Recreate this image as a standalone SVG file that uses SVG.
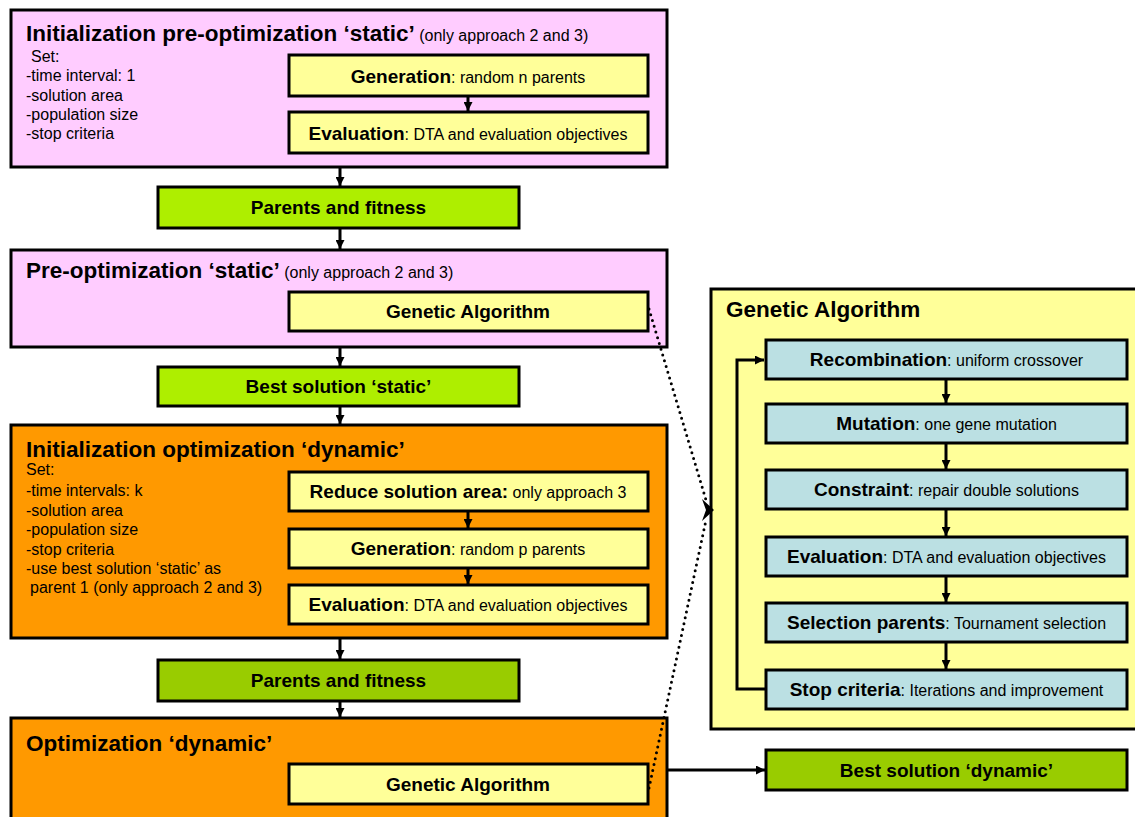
<svg xmlns="http://www.w3.org/2000/svg" width="1135" height="817" viewBox="0 0 1135 817">
<style>
text{font-family:"Liberation Sans",Arial,sans-serif;fill:#000}
.t{font-size:22.5px;font-weight:bold}
.s{font-size:16px}
.b{font-weight:bold;font-size:19px}
.n{font-size:16px;font-weight:normal}
.box{stroke:#000;stroke-width:3}
.pink{fill:#FFCCFF}.yel{fill:#FFFF99}.lime{fill:#AEEE00}.grn{fill:#99CC00}.org{fill:#FF9900}.blu{fill:#BBE0E3}
.c{stroke:#000;stroke-width:3;fill:none}
.dot{stroke:#000;stroke-width:3;fill:none;stroke-dasharray:0 6;stroke-linecap:round}
</style>
<defs>
<marker id="ah" viewBox="0 0 10 10" refX="10" refY="5" markerWidth="3" markerHeight="3" markerUnits="strokeWidth" orient="auto">
<path d="M0,0L10,5L0,10z" fill="#000"/>
</marker>
</defs>

<g id="init-static">
<rect class="box pink" x="11" y="10" width="656" height="157"/>
<text x="26" y="41"><tspan class="t">Initialization pre-optimization ‘static’</tspan><tspan class="n"> (only approach 2 and 3)</tspan></text>
<text class="s" x="31" y="62">Set:</text>
<text class="s" x="26" y="81">-time interval: 1</text>
<text class="s" x="26" y="101">-solution area</text>
<text class="s" x="26" y="120">-population size</text>
<text class="s" x="26" y="139">-stop criteria</text>
</g>
<g id="gen1">
<rect class="box yel" x="289" y="55" width="359" height="41"/>
<text x="468" y="83" text-anchor="middle"><tspan class="b">Generation</tspan><tspan class="n">: random n parents</tspan></text>
</g>
<g id="eval1">
<rect class="box yel" x="289" y="112" width="359" height="41"/>
<text x="468" y="140" text-anchor="middle"><tspan class="b">Evaluation</tspan><tspan class="n">: DTA and evaluation objectives</tspan></text>
</g>
<g id="parents1">
<rect class="box lime" x="158" y="187" width="361" height="41"/>
<text class="b" x="338.5" y="214" text-anchor="middle">Parents and fitness</text>
</g>
<g id="preopt-static">
<rect class="box pink" x="11" y="250" width="656" height="97"/>
<text x="26" y="278"><tspan class="t">Pre-optimization ‘static’</tspan><tspan class="n"> (only approach 2 and 3)</tspan></text>
</g>
<g id="ga1">
<rect class="box yel" x="289" y="292" width="359" height="39"/>
<text class="b" x="468" y="318" text-anchor="middle">Genetic Algorithm</text>
</g>
<g id="best-static">
<rect class="box lime" x="158" y="367" width="361" height="39"/>
<text class="b" x="338.5" y="393" text-anchor="middle">Best solution ‘static’</text>
</g>
<g id="init-dynamic">
<rect class="box org" x="11" y="425" width="656" height="213"/>
<text class="t" x="26" y="457">Initialization optimization ‘dynamic’</text>
<text class="s" x="26" y="475">Set:</text>
<text class="s" x="26" y="496">-time intervals: k</text>
<text class="s" x="26" y="516">-solution area</text>
<text class="s" x="26" y="535">-population size</text>
<text class="s" x="26" y="555">-stop criteria</text>
<text class="s" x="26" y="574">-use best solution ‘static’ as</text>
<text class="s" x="30" y="593">parent 1 (only approach 2 and 3)</text>
</g>
<g id="reduce">
<rect class="box yel" x="289" y="472" width="359" height="39"/>
<text x="468" y="498" text-anchor="middle"><tspan class="b">Reduce solution area:</tspan><tspan class="n"> only approach 3</tspan></text>
</g>
<g id="gen2">
<rect class="box yel" x="289" y="529" width="359" height="39"/>
<text x="468" y="555" text-anchor="middle"><tspan class="b">Generation</tspan><tspan class="n">: random p parents</tspan></text>
</g>
<g id="eval2">
<rect class="box yel" x="289" y="585" width="359" height="39"/>
<text x="468" y="611" text-anchor="middle"><tspan class="b">Evaluation</tspan><tspan class="n">: DTA and evaluation objectives</tspan></text>
</g>
<g id="parents2">
<rect class="box grn" x="158" y="660" width="361" height="41"/>
<text class="b" x="338.5" y="687" text-anchor="middle">Parents and fitness</text>
</g>
<g id="opt-dynamic">
<rect class="box org" x="11" y="718" width="656" height="110"/>
<text class="t" x="26" y="751">Optimization ‘dynamic’</text>
</g>
<g id="ga2">
<rect class="box yel" x="289" y="764" width="359" height="40"/>
<text class="b" x="468" y="791" text-anchor="middle">Genetic Algorithm</text>
</g>

<g id="ga-panel">
<rect class="box yel" x="711" y="289" width="440" height="440"/>
<text x="726" y="317" style="font-size:22.5px;font-weight:bold">Genetic Algorithm</text>
</g>
<g id="recomb">
<rect class="box blu" x="766" y="340" width="361" height="39"/>
<text x="946.5" y="366" text-anchor="middle"><tspan class="b">Recombination</tspan><tspan class="n">: uniform crossover</tspan></text>
</g>
<g id="mutation">
<rect class="box blu" x="766" y="404" width="361" height="39"/>
<text x="946.5" y="430" text-anchor="middle"><tspan class="b">Mutation</tspan><tspan class="n">: one gene mutation</tspan></text>
</g>
<g id="constraint">
<rect class="box blu" x="766" y="470" width="361" height="39"/>
<text x="946.5" y="496" text-anchor="middle"><tspan class="b">Constraint</tspan><tspan class="n">: repair double solutions</tspan></text>
</g>
<g id="eval3">
<rect class="box blu" x="766" y="537" width="361" height="39"/>
<text x="946.5" y="563" text-anchor="middle"><tspan class="b">Evaluation</tspan><tspan class="n">: DTA and evaluation objectives</tspan></text>
</g>
<g id="selection">
<rect class="box blu" x="766" y="603" width="361" height="39"/>
<text x="946.5" y="629" text-anchor="middle"><tspan class="b">Selection parents</tspan><tspan class="n">: Tournament selection</tspan></text>
</g>
<g id="stop">
<rect class="box blu" x="766" y="670" width="361" height="39"/>
<text x="946.5" y="696" text-anchor="middle"><tspan class="b">Stop criteria</tspan><tspan class="n">: Iterations and improvement</tspan></text>
</g>
<g id="best-dynamic">
<rect class="box grn" x="766" y="750" width="361" height="40"/>
<text class="b" x="946.5" y="777" text-anchor="middle">Best solution ‘dynamic’</text>
</g>

<g id="connectors">
<line class="c" x1="340" y1="168" x2="340" y2="186" marker-end="url(#ah)"/>
<line class="c" x1="468" y1="97" x2="468" y2="111" marker-end="url(#ah)"/>
<line class="c" x1="340" y1="229" x2="340" y2="249" marker-end="url(#ah)"/>
<line class="c" x1="340" y1="348" x2="340" y2="366" marker-end="url(#ah)"/>
<line class="c" x1="340" y1="407" x2="340" y2="424" marker-end="url(#ah)"/>
<line class="c" x1="468" y1="512" x2="468" y2="528" marker-end="url(#ah)"/>
<line class="c" x1="468" y1="569" x2="468" y2="584" marker-end="url(#ah)"/>
<line class="c" x1="340" y1="639" x2="340" y2="659" marker-end="url(#ah)"/>
<line class="c" x1="340" y1="702" x2="340" y2="717" marker-end="url(#ah)"/>
<line class="c" x1="668" y1="770" x2="765" y2="770" marker-end="url(#ah)"/>
<line class="c" x1="946" y1="380" x2="946" y2="403" marker-end="url(#ah)"/>
<line class="c" x1="946" y1="444" x2="946" y2="469" marker-end="url(#ah)"/>
<line class="c" x1="946" y1="510" x2="946" y2="536" marker-end="url(#ah)"/>
<line class="c" x1="946" y1="577" x2="946" y2="602" marker-end="url(#ah)"/>
<line class="c" x1="946" y1="643" x2="946" y2="669" marker-end="url(#ah)"/>
<path class="c" d="M765,689H737V360H764" marker-end="url(#ah)"/>
<path class="dot" d="M649,309L706,500"/>
<path class="dot" d="M649,788L706,520"/>
<path d="M702,499L714,510L702,521L706,510z" fill="#000"/>
</g>
</svg>
